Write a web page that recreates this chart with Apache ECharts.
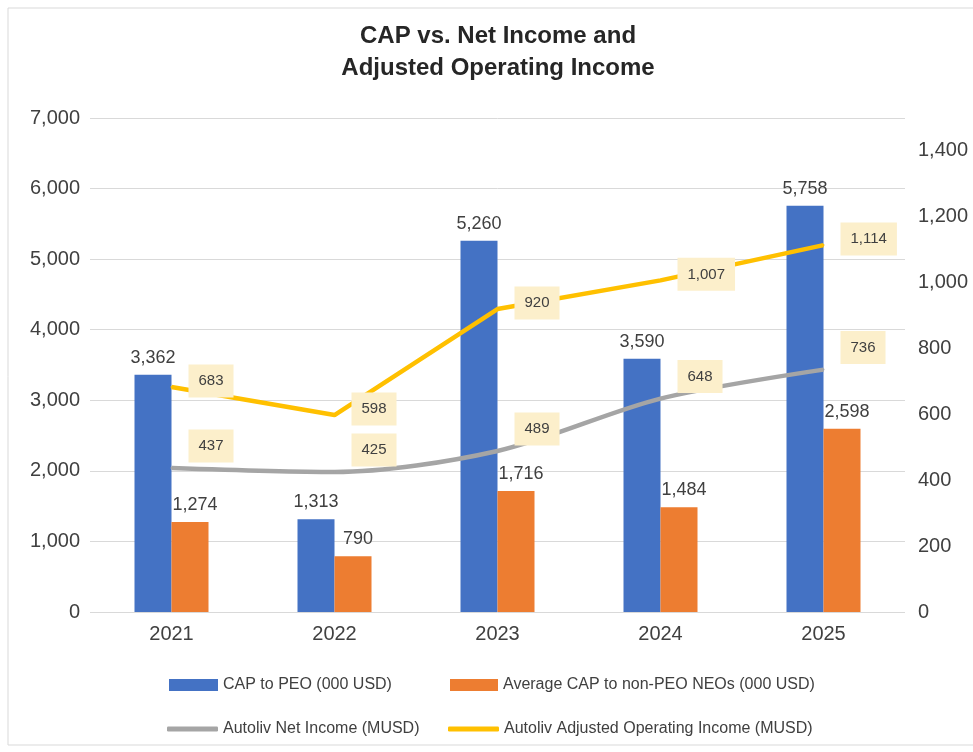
<!DOCTYPE html>
<html>
<head>
<meta charset="utf-8">
<script src="https://cdn.jsdelivr.net/npm/echarts@6/dist/echarts.min.js"></script>
<style>
  html, body { margin: 0; padding: 0; background: #fff; }
  #main { width: 973px; height: 752px; }
</style>
</head>
<body>
<div id="main"></div>
<script>
// data
var years = ["2021", "2022", "2023", "2024", "2025"];
var capPeo = [3362, 1313, 5260, 3590, 5758];
var capNeo = [1274, 790, 1716, 1484, 2598];
var netIncome = [437, 425, 489, 648, 736];
var adjOpIncome = [683, 598, 920, 1007, 1114];

var FONT = '"Liberation Sans", Arial, sans-serif';
var fmt = function (v) { return Number(v).toLocaleString("en-US"); };

var chart = echarts.init(document.getElementById("main"));

var lineLabel = {
  show: true,
  position: "right",
  distance: 16,
  formatter: function (p) { return fmt(p.value); },
  color: "#404040",
  fontFamily: FONT,
  fontSize: 15,
  backgroundColor: "#FCEFCB",
  padding: [9, 10]
};
var legendText = { fontSize: 16, color: "#404040", fontFamily: FONT };

var option = {
  animation: false,
  textStyle: { fontFamily: FONT },
  graphic: [{
    type: "rect",
    shape: { x: 8, y: 8, width: 990, height: 737 },
    style: { fill: "none", stroke: "#d9d9d9", lineWidth: 1 },
    silent: true
  }],
  title: {
    text: "CAP vs. Net Income and\nAdjusted Operating Income",
    left: 493,
    textAlign: "center",
    top: 15,
    textStyle: {
      fontFamily: FONT,
      fontSize: 24,
      fontWeight: "bold",
      color: "#262626",
      lineHeight: 32
    }
  },
  legend: [
    { data: [{ name: "CAP to PEO (000 USD)", icon: "rect" }], left: 164, top: 672, itemWidth: 49, itemHeight: 12,
      itemGap: 4, textStyle: legendText },
    { data: [{ name: "Average CAP to non-PEO NEOs (000 USD)", icon: "rect" }], left: 445, top: 672, itemWidth: 48, itemHeight: 12,
      textStyle: legendText },
    { data: [{ name: "Autoliv Net Income (MUSD)", icon: "roundRect" }], left: 162, top: 716, itemWidth: 51, itemHeight: 5,
      textStyle: legendText },
    { data: [{ name: "Autoliv Adjusted Operating Income (MUSD)", icon: "roundRect" }], left: 443, top: 716, itemWidth: 51, itemHeight: 5,
      textStyle: legendText }
  ],
  grid: { left: 90, right: 68, top: 118, bottom: 140 },
  xAxis: {
    type: "category",
    data: years,
    axisLine: { show: false },
    axisTick: { show: false },
    axisLabel: { color: "#404040", fontSize: 20, fontFamily: FONT, margin: 12 }
  },
  yAxis: [
    {
      type: "value",
      min: 0, max: 7000, interval: 1000,
      axisLine: { show: false },
      axisTick: { show: false },
      splitLine: { lineStyle: { color: "#d9d9d9", width: 1 } },
      axisLabel: { color: "#404040", fontSize: 20, fontFamily: FONT, margin: 10, formatter: fmt }
    },
    {
      type: "value",
      min: 0, max: 1500, interval: 200,
      axisLine: { show: false },
      axisTick: { show: false },
      splitLine: { show: false },
      axisLabel: {
        color: "#404040", fontSize: 20, fontFamily: FONT, margin: 13,
        formatter: function (v) { return v > 1400 ? "" : fmt(v); }
      }
    }
  ],
  series: [
    {
      name: "CAP to PEO (000 USD)",
      type: "bar",
      data: capPeo,
      barWidth: 37,
      barGap: "0%",
      itemStyle: { color: "#4472C4" },
      label: { show: true, position: "top", distance: 8, color: "#404040", fontSize: 18, fontFamily: FONT, formatter: function (p) { return fmt(p.value); } }
    },
    {
      name: "Average CAP to non-PEO NEOs (000 USD)",
      type: "bar",
      data: capNeo,
      barWidth: 37,
      itemStyle: { color: "#ED7D31" },
      label: { show: true, position: "top", distance: 8, offset: [5, 0], color: "#404040", fontSize: 18, fontFamily: FONT, formatter: function (p) { return fmt(p.value); } }
    },
    {
      name: "Autoliv Net Income (MUSD)",
      type: "line",
      yAxisIndex: 1,
      data: netIncome,
      smooth: 0.3,
      symbol: "circle",
      symbolSize: 2,
      showSymbol: true,
      lineStyle: { color: "#A5A5A5", width: 4.5 },
      itemStyle: { color: "#A5A5A5" },
      label: Object.assign({}, lineLabel, { offset: [0, -22] }),
      z: 3
    },
    {
      name: "Autoliv Adjusted Operating Income (MUSD)",
      type: "line",
      yAxisIndex: 1,
      data: adjOpIncome,
      symbol: "circle",
      symbolSize: 2,
      showSymbol: true,
      lineStyle: { color: "#FFC000", width: 4.5 },
      itemStyle: { color: "#FFC000" },
      label: Object.assign({}, lineLabel, { offset: [0, -6] }),
      z: 4
    }
  ]
};

chart.setOption(option);
</script>
</body>
</html>
